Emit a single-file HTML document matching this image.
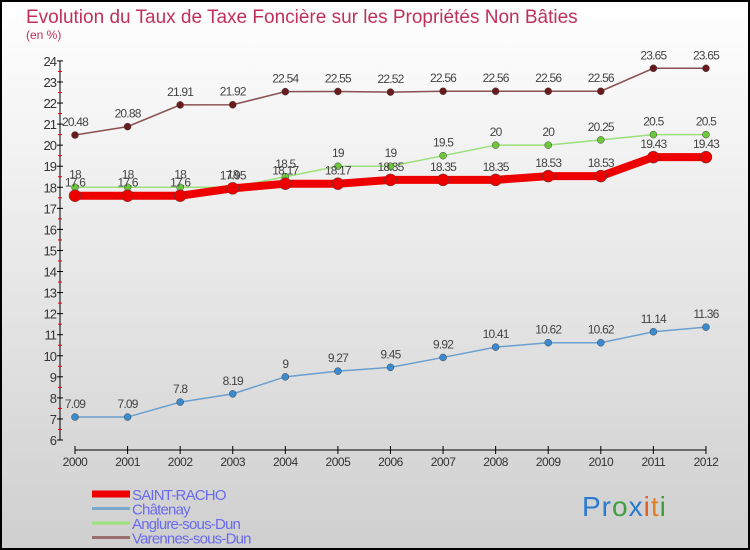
<!DOCTYPE html>
<html><head><meta charset="utf-8"><style>
body{margin:0;}
#c{position:relative;width:750px;height:550px;box-sizing:border-box;border:2px solid #000;background:linear-gradient(#fff,#cfcfcf);font-family:"Liberation Sans",sans-serif;overflow:hidden}
</style></head><body>
<div id="c">
<svg id="s" width="750" height="550" style="position:absolute;left:-2px;top:-2px">
<text x="26" y="23" font-size="19" fill="#c0305a">Evolution du Taux de Taxe Foncière sur les Propriétés Non Bâties</text>
<text x="26" y="39" font-size="12" fill="#c0305a">(en %)</text>
</svg>
</div>
<script>
const years=[2000,2001,2002,2003,2004,2005,2006,2007,2008,2009,2010,2011,2012];
const saint=[17.6,17.6,17.6,17.95,18.17,18.17,18.35,18.35,18.35,18.53,18.53,19.43,19.43];
const chatenay=[7.09,7.09,7.8,8.19,9,9.27,9.45,9.92,10.41,10.62,10.62,11.14,11.36];
const anglure=[18,18,18,18,18.5,19,19,19.5,20,20,20.25,20.5,20.5];
const varennes=[20.48,20.88,21.91,21.92,22.54,22.55,22.52,22.56,22.56,22.56,22.56,23.65,23.65];
const yTicks=[6,7,8,9,10,11,12,13,14,15,16,17,18,19,20,21,22,23,24];
const NS="http://www.w3.org/2000/svg",s=document.getElementById('s');
const X=i=>75+i*52.58, Y=v=>440-(v-6)*21.06;
function el(t,a,p){const e=document.createElementNS(NS,t);for(const k in a)e.setAttribute(k,a[k]);(p||s).appendChild(e);return e;}
let ax=el('line',{x1:60,y1:Y(24),x2:60,y2:Y(6),stroke:'#000'});


yTicks.forEach(v=>{el('line',{x1:57,x2:63,y1:Y(v),y2:Y(v),stroke:'#000'});
if(v<24)el('line',{x1:58,x2:62,y1:Y(v+0.5),y2:Y(v+0.5),stroke:'#e00'});
const t=el('text',{x:56,y:Y(v)+5,'text-anchor':'end','font-size':13,fill:'#333','letter-spacing':'-1'});t.textContent=v;

});
let xa=el('line',{x1:X(0),y1:450,x2:X(12),y2:450,stroke:'#000'});


years.forEach((y,i)=>{el('line',{x1:X(i),x2:X(i),y1:446,y2:454,stroke:'#000'});
const t=el('text',{x:X(i),y:466,'text-anchor':'middle','font-size':12,fill:'#333','letter-spacing':'-0.5'});t.textContent=y;

});
function series(d,col,dot,w,r,name,off){
const g=el('g',{});


el('polyline',{points:d.map((v,i)=>X(i)+','+Y(v)).join(' '),fill:'none',stroke:col,'stroke-width':w},g);
d.forEach((v,i)=>{el('circle',{cx:X(i),cy:Y(v),r:r,fill:dot,stroke:'#444','stroke-width':0.5},g);
const t=el('text',{x:X(i),y:Y(v)+off,'text-anchor':'middle','font-size':12,fill:'#444','letter-spacing':'-0.8'},g);t.textContent=v;

});}
series(chatenay,'#6a9fd0','#3a8ad0',1.5,3.5,'series-chatenay',-9);
series(varennes,'#8a5050','#6a1a1a',1.5,3.5,'series-varennes',-9);
series(anglure,'#9be07a','#6cc83a',1.5,3.5,'series-anglure',-9);
series(saint,'#ee0000','#ee0000',8,6,'series-saint-racho',-9);
const leg=[['SAINT-RACHO','#ee0000',7],['Châtenay','#7aa8cc',3],['Anglure-sous-Dun','#9be07a',3],['Varennes-sous-Dun','#987070',3]];
leg.forEach((l,i)=>{const y=494+i*14.5;el('line',{x1:92,x2:130,y1:y,y2:y,stroke:l[1],'stroke-width':l[2]});
const t=el('text',{x:132,y:y+6,'font-size':15,fill:'#6a6aee','letter-spacing':'-0.8'});t.textContent=l[0];

});
const lg=el('text',{x:582,y:516,'font-size':28,'letter-spacing':'1'});


[['Pr','#2a7ad0'],['o','#40a040'],['x','#2a7ad0'],['i','#e06020'],['t','#e08020'],['i','#40a040']].forEach(p=>{el('tspan',{fill:p[1]},lg).textContent=p[0];});
</script>
</body></html>
